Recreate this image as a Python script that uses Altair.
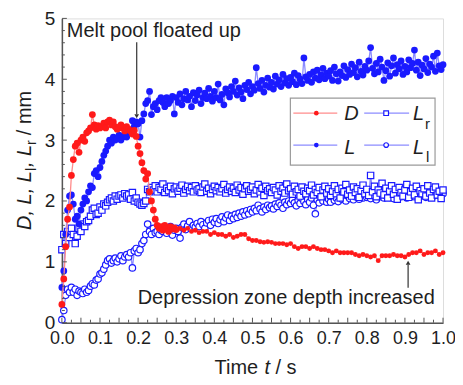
import altair as alt
import pandas as pd

# ---------------- data ----------------
t5 = [round(i * 0.005, 3) for i in range(201)]
tD = t5[:61] + [round(0.31 + i * 0.01, 2) for i in range(70)]

D_vals = [0.30, 0.72, 1.25, 1.70, 1.90, 2.42, 2.68, 2.90, 2.95, 2.80,
          3.00, 3.05, 2.98, 3.12, 3.15, 3.20, 3.42, 3.25, 3.18, 3.24,
          3.20, 3.22, 3.28, 3.20, 3.30, 3.33, 3.25, 3.30, 3.22, 3.18,
          3.20, 3.25, 3.20, 3.15, 3.22, 3.18, 3.15, 3.10, 3.16, 3.06,
          2.90, 2.78, 2.63, 2.50, 2.36, 2.45, 2.15, 2.00, 1.85, 1.70,
          1.60, 1.55, 1.58, 1.52, 1.60, 1.55, 1.50, 1.58, 1.54, 1.56, 1.53,
          1.55, 1.52, 1.55, 1.50, 1.52, 1.48, 1.50, 1.50, 1.45, 1.48,
          1.45, 1.45, 1.42, 1.45, 1.40, 1.42, 1.45, 1.45, 1.38, 1.35,
          1.35, 1.33, 1.32, 1.33, 1.32, 1.30, 1.30, 1.30, 1.28, 1.30,
          1.25, 1.22, 1.25, 1.25, 1.22, 1.25, 1.22, 1.20, 1.20, 1.18,
          1.15, 1.18, 1.15, 1.15, 1.15, 1.15, 1.12, 1.10, 1.12, 1.10,
          1.08, 1.10, 1.02, 1.10, 1.10, 1.10, 1.12, 1.10, 1.10, 1.08,
          1.12, 1.15, 1.15, 1.18, 1.12, 1.15, 1.15, 1.18, 1.12, 1.15]

L_vals = [0.58, 0.85, 1.45, 1.85, 2.08, 2.10, 1.95, 1.70, 1.75, 1.62,
          1.85, 1.95, 2.05, 2.00, 2.15, 2.25, 2.22, 2.45, 2.50, 2.40,
          2.55, 2.65, 2.75, 2.82, 2.90, 3.00, 2.95, 3.05, 3.00, 3.02,
          3.08, 3.00, 3.05, 3.10, 3.05, 3.12, 3.15, 3.32, 3.22, 3.30,
          3.27, 3.05, 3.32, 3.43, 3.60, 3.65, 3.80, 3.42, 3.55, 3.60,
          3.50, 3.65, 3.70, 3.62, 3.55, 3.70, 3.60, 3.65, 3.72, 3.43,
          3.70, 3.62, 3.76, 3.58, 3.68, 3.80, 3.66, 3.72, 3.55, 3.78,
          3.65, 3.74, 3.82, 3.60, 3.70, 3.77, 3.68, 3.85, 3.72, 3.64,
          3.80, 3.70, 3.92, 3.66, 3.75, 3.58, 3.84, 3.78, 3.71, 3.88,
          3.80, 3.97, 3.74, 3.86, 3.79, 3.68, 3.90, 3.83, 3.95, 3.76,
          3.88, 3.82, 4.19, 3.93, 3.85, 3.98, 3.79, 3.90, 4.02, 3.87,
          3.95, 3.84, 4.05, 3.92, 3.99, 3.88, 4.08, 3.94, 4.01, 3.90,
          4.03, 3.96, 4.10, 3.91, 4.06, 4.00, 3.93, 4.35, 4.04, 3.98,
          4.08, 3.95, 4.12, 4.02, 4.15, 3.99, 4.07, 4.18, 4.01, 4.10,
          4.05, 4.14, 3.98, 4.20, 4.09, 3.97, 4.12, 4.06, 4.22, 4.03,
          4.16, 4.08, 4.25, 4.11, 4.19, 4.04, 4.28, 4.13, 4.07, 4.21,
          4.15, 4.30, 4.52, 4.18, 4.09, 4.26, 4.12, 4.33, 4.20, 3.98,
          4.14, 4.27, 4.05, 4.22, 4.35, 4.10, 4.24, 4.17, 4.30, 4.08,
          4.21, 4.12, 4.32, 4.19, 4.26, 4.48, 4.15, 4.28, 4.06, 4.23,
          4.17, 4.34, 4.11, 4.25, 4.20, 4.38, 4.13, 4.43, 4.22, 4.16,
          4.24]

Lr_vals = [1.20, 1.45, 1.30, 1.50, 1.40, 1.55, 1.45, 1.30, 1.42, 1.55,
           1.50, 1.62, 1.58, 1.66, 1.68, 1.75, 1.85, 1.88, 1.78, 1.80,
           1.90, 1.85, 1.95, 1.92, 1.98, 2.02, 2.05, 2.00, 2.08, 2.03,
           2.08, 2.10, 2.05, 2.12, 2.08, 2.10, 2.03, 2.14, 2.00, 2.05,
           1.98, 1.95, 1.93, 1.96, 2.00, 2.19, 2.15, 2.22, 2.18, 2.25,
           2.15, 2.22, 2.19, 2.28, 2.14, 2.21, 2.17, 2.24, 2.12, 2.20,
           2.23, 2.16, 2.21, 2.26, 2.13, 2.19, 2.24, 2.17, 2.22, 2.15,
           2.25, 2.18, 2.20, 2.14, 2.23, 2.28, 2.16, 2.21, 2.12, 2.19,
           2.24, 2.17, 2.22, 2.15, 2.20, 2.27, 2.13, 2.19, 2.23, 2.16,
           2.21, 2.14, 2.26, 2.18, 2.22, 2.11, 2.20, 2.25, 2.16, 2.19,
           2.23, 2.12, 2.18, 2.27, 2.15, 2.21, 2.09, 2.24, 2.17, 2.20,
           2.14, 2.22, 2.18, 2.10, 2.25, 2.16, 2.21, 2.13, 2.28, 2.17,
           2.20, 2.11, 2.24, 2.15, 2.19, 2.08, 2.23, 2.16, 2.12, 2.21,
           2.17, 2.26, 2.10, 2.19, 2.14, 2.22, 2.07, 2.18, 2.24, 2.13,
           2.20, 2.09, 2.16, 2.25, 2.12, 2.19, 2.05, 2.21, 2.15, 2.27,
           2.11, 2.18, 2.08, 2.23, 2.14, 2.20, 2.06, 2.17, 2.26, 2.12,
           2.19, 2.09, 2.42, 2.15, 2.24, 2.07, 2.18, 2.13, 2.29, 2.10,
           2.21, 2.05, 2.16, 2.25, 2.11, 2.19, 2.03, 2.22, 2.14, 2.08,
           2.18, 2.27, 2.06, 2.15, 2.21, 2.10, 2.24, 2.02, 2.17, 2.12,
           2.20, 2.08, 2.25, 2.13, 2.05, 2.19, 2.23, 2.10, 2.16, 2.04,
           2.18]

Ll_vals = [0.05, 0.20, 0.45, 0.55, 0.50, 0.58, 0.50, 0.55, 0.45, 0.52,
           0.50, 0.48, 0.55, 0.50, 0.53, 0.60, 0.64, 0.62, 0.70, 0.72,
           0.80, 0.82, 0.88, 0.95, 1.02, 1.05, 0.98, 1.02, 1.06, 1.00,
           1.05, 1.10, 1.02, 1.08, 1.12, 1.08, 1.15, 0.90, 1.18, 1.22,
           1.15, 1.20, 1.30, 1.35, 1.45, 1.62, 1.50, 1.45, 1.55, 1.48,
           1.50, 1.45, 1.52, 1.50, 1.56, 1.47, 1.53, 1.58, 1.44, 1.52,
           1.55, 1.50, 1.39, 1.57, 1.62, 1.53, 1.59, 1.66, 1.55, 1.60,
           1.57, 1.63, 1.58, 1.66, 1.61, 1.55, 1.64, 1.68, 1.60, 1.70,
           1.65, 1.71, 1.63, 1.69, 1.74, 1.66, 1.72, 1.77, 1.68, 1.75,
           1.71, 1.78, 1.73, 1.80, 1.75, 1.82, 1.77, 1.84, 1.79, 1.86,
           1.82, 1.88, 1.84, 1.93, 1.87, 1.82, 1.90, 1.86, 1.93, 1.89,
           1.92, 1.87, 1.95, 1.91, 1.97, 1.93, 1.88, 1.98, 1.94, 2.00,
           1.96, 2.02, 1.97, 1.92, 2.01, 1.96, 2.04, 1.99, 1.94, 2.03,
           1.98, 2.05, 1.93, 1.79, 2.02, 1.97, 2.06, 2.00, 2.08, 1.98,
           2.03, 1.98, 2.07, 2.01, 2.05, 1.99, 2.09, 2.03, 2.06, 2.00,
           2.08, 2.04, 2.10, 2.02, 2.07, 2.11, 2.03, 2.09, 2.05, 2.12,
           2.06, 2.10, 2.04, 2.13, 2.08, 2.02, 2.11, 2.07, 2.14, 2.05,
           2.09, 2.13, 2.06, 2.11, 2.04, 2.15, 2.08, 2.12, 2.07, 2.10,
           2.14, 2.05, 2.11, 2.09, 2.16, 2.07, 2.12, 2.08, 2.15, 2.10,
           2.13, 2.06, 2.17, 2.10, 2.12, 2.08, 2.15, 2.11, 2.09, 2.14,
           2.12]

x_tick_labels = [0.0, 0.1, 0.2, 0.3, 0.4, 0.5, 0.6, 0.7, 0.8, 0.9, 1.0]
y_tick_labels = [0, 1, 2, 3, 4, 5]
x_minor = [round(i * 0.025, 3) for i in range(41)]
y_minor = [round(i * 0.2, 1) for i in range(26)]

# ---------------- style ----------------
W, H = 382, 305
FONT = "Liberation Sans"
RED = "#ff1a1a"
BLUE = "#1a1aff"
RED_LINE = "#ff8c8c"
BLUE_LINE = "#8c8cff"
TXT = "#1e1e1e"
AX = "#555555"

x_enc = alt.X("t:Q", scale=alt.Scale(domain=[0, 1], nice=False, zero=False),
              axis=alt.Axis(values=x_tick_labels, format=".1f", ticks=False, grid=False,
                            title=None, labelFontSize=18, labelFont=FONT, labelColor=TXT,
                            labelPadding=7, labelFlush=False, labelOverlap=False,
                            domainColor=AX, domainWidth=1.5))
y_enc = alt.Y("v:Q", scale=alt.Scale(domain=[0, 5], nice=False, zero=False),
              axis=alt.Axis(values=y_tick_labels, format="d", ticks=False, grid=False,
                            title=None, labelFontSize=19, labelFont=FONT, labelColor=TXT,
                            labelPadding=7, labelFlush=False, labelOverlap=False,
                            domainColor=AX, domainWidth=1.5))


def series(ts, vs, line_color, mark_kw, split=None, late_size=None):
    df = pd.DataFrame({"t": ts, "v": vs})
    base = alt.Chart(df).encode(x=x_enc, y=y_enc)
    ln = base.mark_line(color=line_color, strokeWidth=1.3)
    if split is None:
        return ln + base.mark_point(**mark_kw)
    early = alt.Chart(df[df.t <= split]).encode(x=x_enc, y=y_enc).mark_point(**mark_kw)
    kw2 = dict(mark_kw)
    kw2["size"] = late_size
    late = alt.Chart(df[df.t > split]).encode(x=x_enc, y=y_enc).mark_point(**kw2)
    return ln + early + late


s_Ll = series(t5, Ll_vals, BLUE_LINE,
              dict(shape="circle", filled=False, fill="white", fillOpacity=1,
                   stroke=BLUE, strokeWidth=1.2, size=42, opacity=1))
s_Lr = series(t5, Lr_vals, BLUE_LINE,
              dict(shape="square", filled=False, fill="white", fillOpacity=1,
                   stroke=BLUE, strokeWidth=1.2, size=40, opacity=1))
s_L = series(t5, L_vals, BLUE_LINE,
             dict(shape="circle", filled=True, color=BLUE, size=46, opacity=1))
s_D = series(tD, D_vals, RED_LINE,
             dict(shape="circle", filled=True, color=RED, size=46, opacity=1),
             split=0.3, late_size=24)

# inward ticks
xt_major = [v for i, v in enumerate(x_minor) if i % 2 == 0]
xt_minor = [v for i, v in enumerate(x_minor) if i % 2 == 1]
ticks_x = (
    alt.Chart(pd.DataFrame({"t": xt_major})).mark_rule(color=AX, strokeWidth=1).encode(
        x=x_enc, y=alt.value(H), y2=alt.value(H - 5))
    + alt.Chart(pd.DataFrame({"t": xt_minor})).mark_rule(color=AX, strokeWidth=1).encode(
        x=x_enc, y=alt.value(H), y2=alt.value(H - 3))
)
yt_major = [v for i, v in enumerate(y_minor) if i % 5 == 0]
yt_minor = [v for i, v in enumerate(y_minor) if i % 5 != 0]
ticks_y = (
    alt.Chart(pd.DataFrame({"v": yt_major})).mark_rule(color=AX, strokeWidth=1).encode(
        y=y_enc, x=alt.value(0), x2=alt.value(5))
    + alt.Chart(pd.DataFrame({"v": yt_minor})).mark_rule(color=AX, strokeWidth=1).encode(
        y=y_enc, x=alt.value(0), x2=alt.value(3))
)

one = pd.DataFrame({"a": [0]})


def txt(s, x, y, size=20, style="normal", angle=0, align="left", color=TXT):
    kw = dict(text=s, fontSize=size, font=FONT, fontStyle=style, align=align,
              baseline="alphabetic", color=color)
    if angle:
        kw["angle"] = angle
    return alt.Chart(one).mark_text(**kw).encode(x=alt.value(x), y=alt.value(y))


def hline(x1, x2, y, color, width=1.2):
    return alt.Chart(one).mark_rule(color=color, strokeWidth=width).encode(
        x=alt.value(x1), x2=alt.value(x2), y=alt.value(y))


def vline(x, y1, y2, color="#333333", width=1.2):
    return alt.Chart(one).mark_rule(color=color, strokeWidth=width).encode(
        x=alt.value(x), y=alt.value(y1), y2=alt.value(y2))


def sym(x, y, **kw):
    return alt.Chart(one).mark_point(opacity=1, **kw).encode(x=alt.value(x), y=alt.value(y))


# annotations (plot pixels; plot top is at page y = 18)
ann = (
    txt("Melt pool floated up", 5, 19)
    + vline(75, 24, 96)
    + sym(75, 98, shape="triangle-down", filled=True, color="#333333", size=22)
    + txt("Depression zone depth increased", 76, 286)
    + vline(347, 270, 247)
    + sym(347, 245, shape="triangle-up", filled=True, color="#333333", size=22)
)

# legend box
leg = (
    alt.Chart(one).mark_rect(fill="white", stroke="#9a9a9a", strokeWidth=1.2).encode(
        x=alt.value(229), x2=alt.value(374), y=alt.value(80), y2=alt.value(147))
    + hline(232, 276, 95, RED_LINE)
    + sym(255, 95, shape="circle", filled=True, color=RED, size=22)
    + txt("D", 283, 102, style="italic")
    + hline(303, 348, 95, BLUE_LINE)
    + sym(325, 95, shape="square", filled=False, fill="white", fillOpacity=1,
          stroke=BLUE, strokeWidth=1.2, size=22)
    + txt("L", 352, 102, style="italic")
    + txt("r", 364, 111, size=15)
    + hline(232, 276, 127, BLUE_LINE)
    + sym(255, 127, shape="circle", filled=True, color=BLUE, size=22)
    + txt("L", 283, 136, style="italic")
    + hline(303, 348, 127, BLUE_LINE)
    + sym(325, 127, shape="circle", filled=False, fill="white", fillOpacity=1,
          stroke=BLUE, strokeWidth=1.2, size=22)
    + txt("L", 352, 136, style="italic")
    + txt("l", 365, 144, size=15)
)

# axis titles (mixed italic / upright; SVG drops edge spaces so pieces are placed)
titles = (
    txt("Time", 153, 356)
    + txt("t", 203, 356, style="italic")
    + txt("/ s", 214, 356)
    + txt("D, L, L", -31, 212, style="italic", angle=270)
    + txt("l", -26, 153, size=14, angle=270)
    + txt(", L", -31, 149, style="italic", angle=270)
    + txt("r", -26, 127, size=14, angle=270)
    + txt("/ mm", -31, 117, angle=270)
)

chart = alt.layer(
    s_Ll, s_Lr, s_L, s_D, ticks_x, ticks_y, ann, leg, titles
).properties(
    width=W, height=H,
    autosize=alt.AutoSizeParams(type="none"),
    padding={"left": 54, "top": 10, "right": 12, "bottom": 56},
).configure_view(stroke="#8a8a8a", strokeWidth=1.5).configure(background="white")

chart.save("out.html", embed_options={"renderer": "svg", "actions": False})
